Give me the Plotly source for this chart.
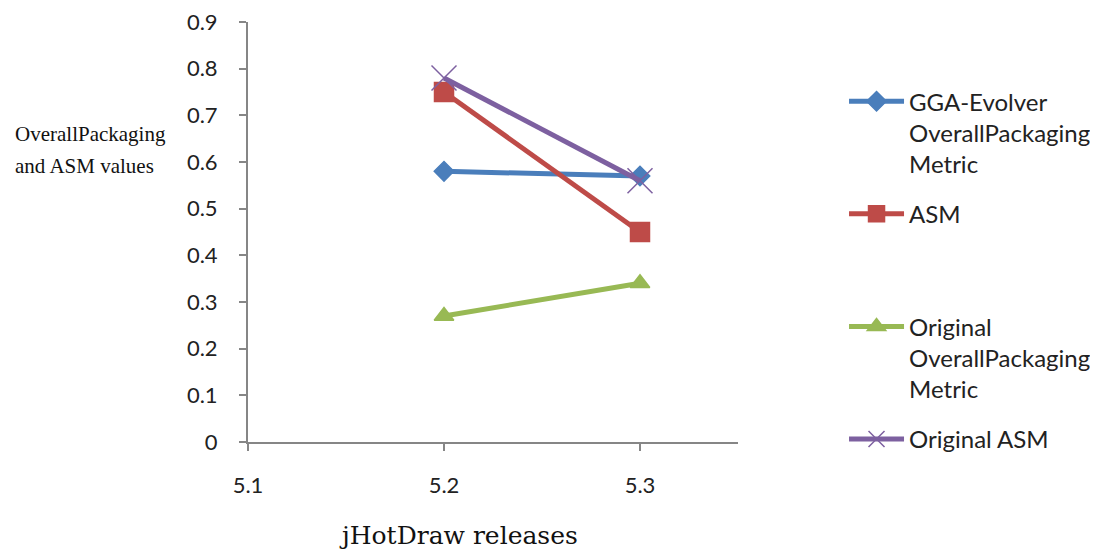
import plotly.graph_objects as go

releases = [5.2, 5.3]
gga_overall = [0.58, 0.57]
asm = [0.75, 0.45]
orig_overall = [0.27, 0.34]
orig_asm = [0.78, 0.56]

x_ticks = [5.1, 5.2, 5.3]
x_tick_text = ["5.1", "5.2", "5.3"]
y_ticks = [0, 0.1, 0.2, 0.3, 0.4, 0.5, 0.6, 0.7, 0.8, 0.9]

series = [
    ("GGA-Evolver<br>OverallPackaging<br>Metric", gga_overall, "#4A7EBB", "diamond", 15),
    ("ASM<br> <br> ", asm, "#BE4B48", "square", 19),
    ("Original<br>OverallPackaging<br>Metric", orig_overall, "#98B954", "triangle-up", 17),
    ("Original ASM", orig_asm, "#7D60A0", "x-thin", 25),
]

fig = go.Figure()
for i, (name, vals, color, sym, size) in enumerate(series):
    fig.add_trace(go.Scatter(
        x=releases, y=vals, name=name, mode="lines+markers",
        legendgroup="g%d" % i,
        line=dict(color=color, width=5),
        marker=dict(symbol=sym, size=size, color=color,
                    line=dict(color=color, width=1.5)),
    ))

axis_color = "#868686"
fig.update_layout(
    width=1090, height=543,
    paper_bgcolor="white", plot_bgcolor="white",
    margin=dict(l=240, r=360, t=14, b=109, autoexpand=False),
    font=dict(family="Lato", size=22, color="#222222"),
    xaxis=dict(range=[5.1, 5.35], tickvals=x_ticks, ticktext=x_tick_text,
               showline=True, linecolor=axis_color, linewidth=2,
               ticks="outside", ticklen=7, tickcolor=axis_color, tickwidth=2,
               showgrid=False, zeroline=False, ticklabelstandoff=16,
               ticklabeloverflow="allow", automargin=False),
    yaxis=dict(range=[0, 0.9], tickvals=y_ticks,
               showline=True, linecolor=axis_color, linewidth=2,
               ticks="outside", ticklen=7, tickcolor=axis_color, tickwidth=2,
               showgrid=False, zeroline=False, ticklabelstandoff=17,
               ticklabeloverflow="allow", automargin=False),
    legend=dict(xref="container", yref="container",
                x=0.767, y=0.869, xanchor="left", yanchor="top",
                maxheight=520,
                font=dict(family="Lato", size=24, color="#222222"),
                valign="top", itemwidth=55, tracegroupgap=16,
                traceorder="grouped", bgcolor="rgba(0,0,0,0)"),
    annotations=[
        dict(text="OverallPackaging", xref="paper", yref="paper",
             x=-0.480, y=(442 - 134) / 420, xanchor="left", yanchor="middle", showarrow=False,
             font=dict(family="Liberation Serif", size=21, color="#111111")),
        dict(text="and ASM values", xref="paper", yref="paper",
             x=-0.480, y=(442 - 166) / 420, xanchor="left", yanchor="middle", showarrow=False,
             font=dict(family="Liberation Serif", size=21, color="#111111")),
        dict(text="jHotDraw releases", xref="paper", yref="paper",
             x=0.43, y=-0.222, xanchor="center", yanchor="middle", showarrow=False,
             font=dict(family="DejaVu Serif", size=25, color="#111111")),
    ],
)
fig.write_html("out.html")
